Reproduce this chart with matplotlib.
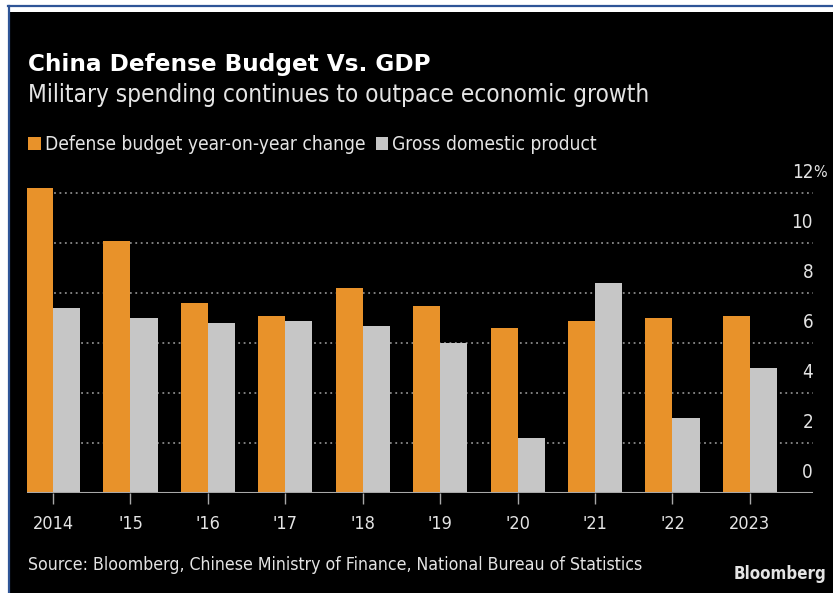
import numpy as np
import matplotlib
matplotlib.use("Agg")
import matplotlib.pyplot as plt
from matplotlib.patches import Rectangle
from matplotlib.lines import Line2D
from matplotlib import transforms
from matplotlib import font_manager as fm

# data: percent change, defense budget vs GDP
years = ["2014", "'15", "'16", "'17", "'18", "'19", "'20", "'21", "'22", "2023"]
defense = [12.2, 10.1, 7.6, 7.1, 8.2, 7.5, 6.6, 6.9, 7.0, 7.1]
gdp = [7.4, 7.0, 6.8, 6.9, 6.7, 6.0, 2.2, 8.4, 3.0, 5.0]
yticks = [0, 2, 4, 6, 8, 10, 12]

W, H = 833, 593
ORANGE = "#E8922A"
GREY = "#C6C6C6"
TXT = "#E4E4E4"

# use the condensed DejaVu face when it is installed, otherwise shrink the regular one
cond_path = fm.findfont(fm.FontProperties(family="DejaVu Sans", stretch="condensed"))
k = 1.0 if "Condensed" in cond_path else 0.9
STRETCH = "condensed"
plt.rcParams["font.family"] = ["DejaVu Sans"]

fig = plt.figure(figsize=(W / 100, H / 100), dpi=100)
fig.patch.set_facecolor("white")

def fx(px):
    return px / W

def fy(py):
    return 1 - py / H

# black panel plus the thin blue frame
fig.patches.append(Rectangle((fx(10), 0), 1 - fx(10), fy(12), transform=fig.transFigure,
                             facecolor="black", edgecolor="none", zorder=-10))
fig.lines.append(Line2D([fx(8), 1], [fy(6), fy(6)], transform=fig.transFigure,
                        color="#2F5597", lw=1.6))
fig.lines.append(Line2D([fx(8.5), fx(8.5)], [fy(6), 0], transform=fig.transFigure,
                        color="#2F5597", lw=1.6))

# titles
fig.text(fx(28), fy(64), "China Defense Budget Vs. GDP", color="white", fontsize=16.7,
         fontweight="bold", va="center", ha="left")
fig.text(fx(28), fy(95), "Military spending continues to outpace economic growth",
         color=TXT, fontsize=17.5 * k, fontstretch=STRETCH, va="center", ha="left")

# legend
fig.patches.append(Rectangle((fx(28), fy(150)), fx(13), 13 / H, transform=fig.transFigure,
                             facecolor=ORANGE, edgecolor="none"))
fig.text(fx(45), fy(144), "Defense budget year-on-year change", color=TXT,
         fontsize=13.8 * k, fontstretch=STRETCH, va="center", ha="left")
fig.patches.append(Rectangle((fx(376), fy(150)), fx(12), 13 / H, transform=fig.transFigure,
                             facecolor=GREY, edgecolor="none"))
fig.text(fx(392), fy(144), "Gross domestic product", color=TXT,
         fontsize=13.8 * k, fontstretch=STRETCH, va="center", ha="left")

# plot area
ax = fig.add_axes([fx(26.7), fy(493), fx(813) - fx(26.7), (493 - 168) / H])
ax.set_facecolor("none")
x = np.arange(len(years))
bw = 0.35
ax.bar(x - bw / 2, defense, width=bw, color=ORANGE, zorder=3)
ax.bar(x + bw / 2, gdp, width=bw, color=GREY, zorder=3)
ax.set_xlim(-0.34, len(years) - 1 + 0.815)
ax.set_ylim(0, 13)

for v in yticks[1:]:
    ax.axhline(v, color="#8A8A8A", lw=1.3, ls=(0, (1, 2)), zorder=1)
ax.axhline(0, color="#A8A8A8", lw=1.5, zorder=4)

for s in ax.spines.values():
    s.set_visible(False)

ax.set_xticks(x)
ax.set_xticklabels(years, fontstretch=STRETCH)
ax.tick_params(axis="x", length=8, width=1, color="#A8A8A8", labelcolor=TXT,
               labelsize=13 * k, pad=8)
ax.set_yticks([])

# y labels sit above their gridlines on the right edge
off = transforms.offset_copy(ax.get_yaxis_transform(), fig=fig, x=0, y=15.1, units="points")
for v in yticks:
    ax.text(1.0, v, str(v), transform=off, color=TXT, fontsize=13.5 * k,
            fontstretch=STRETCH, ha="right", va="center")
    if v == yticks[-1]:
        ax.text(1.0, v, "%", transform=off, color=TXT, fontsize=11.5 * k,
                fontstretch=STRETCH, ha="left", va="center")

fig.text(fx(28), fy(565), "Source: Bloomberg, Chinese Ministry of Finance, National Bureau of Statistics",
         color=TXT, fontsize=12.7 * k, fontstretch=STRETCH, va="center", ha="left")
fig.text(fx(826), fy(574), "Bloomberg", color=TXT, fontsize=12.2, fontweight="bold",
         fontstretch=STRETCH, va="center", ha="right")

fig.savefig("out.png", dpi=100, facecolor=fig.get_facecolor())
